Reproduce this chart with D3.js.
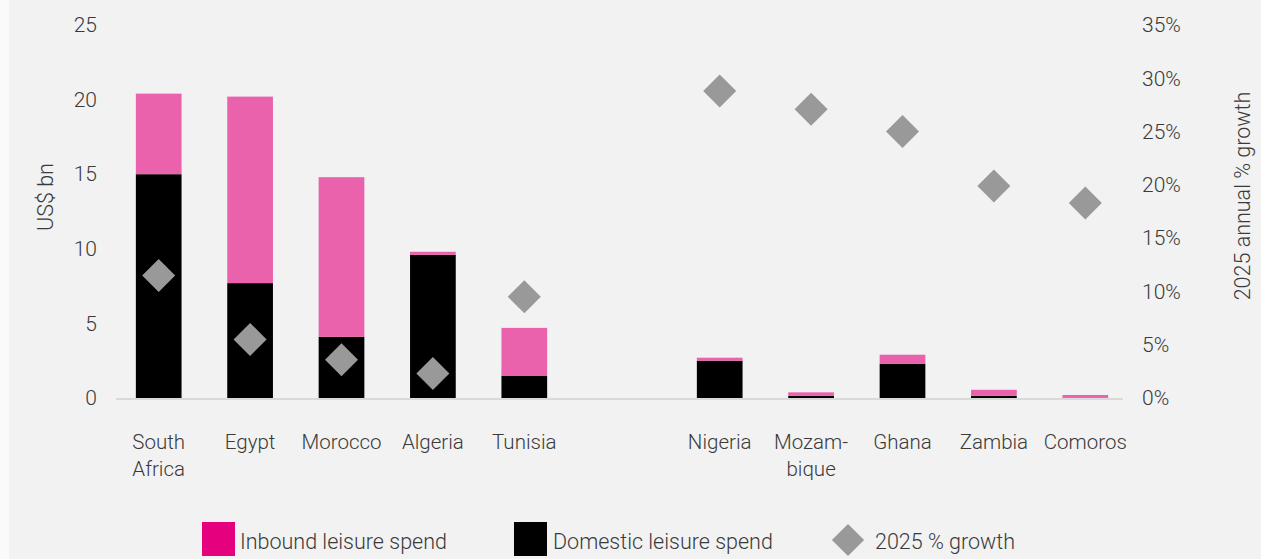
<!DOCTYPE html>
<html>
<head>
<meta charset="utf-8">
<script src="https://cdn.jsdelivr.net/npm/d3@7"></script>
<style>
  html, body { margin: 0; padding: 0; background: #fafafa; }
  svg { display: block; font-family: Roboto, "Noto Sans", sans-serif; font-weight: 300; }
</style>
</head>
<body>
<div id="chart"></div>
<script>
// two country groups, drawn with a gap between them
const leftGroup = ['South Africa', 'Egypt', 'Morocco', 'Algeria', 'Tunisia']
const rightGroup = ['Nigeria', 'Mozambique', 'Ghana', 'Zambia', 'Comoros']
const tickLabels = [['South', 'Africa'], ['Egypt'], ['Morocco'], ['Algeria'], ['Tunisia'],
                    ['Nigeria'], ['Mozam-', 'bique'], ['Ghana'], ['Zambia'], ['Comoros']]

// US$ bn
const domestic = [15.0, 7.7, 4.1, 9.6, 1.5, 2.5, 0.15, 2.3, 0.15, 0.02]
const inbound  = [5.4, 12.5, 10.7, 0.2, 3.2, 0.2, 0.23, 0.6, 0.4, 0.18]
// 2025 annual % growth
const growth   = [11.5, 5.5, 3.6, 2.3, 9.5, 28.8, 27.1, 25.0, 19.9, 18.3]

const leftTicks = [0, 5, 10, 15, 20, 25]
const rightTicks = [0, 5, 10, 15, 20, 25, 30, 35]

const width = 1261, height = 559
const pink = '#e962ab', legendPink = '#e5007d', black = '#000000', grey = '#999999'
const textColor = '#3a3a3a'

const countries = leftGroup.concat(rightGroup)
const data = countries.map((c, i) => ({
  country: c,
  label: tickLabels[i],
  domestic: domestic[i],
  inbound: inbound[i],
  growth: growth[i]
}))

const svg = d3.select('#chart').append('svg')
  .attr('width', width)
  .attr('height', height)

svg.append('rect')
  .attr('x', 9).attr('y', 0)
  .attr('width', width - 9).attr('height', height)
  .attr('fill', '#f2f2f2')

const xLeft = d3.scaleBand().domain(leftGroup).range([113, 570]).paddingInner(0.5).paddingOuter(0.25)
const xRight = d3.scaleBand().domain(rightGroup).range([674, 1131]).paddingInner(0.5).paddingOuter(0.25)
const x = c => leftGroup.includes(c) ? xLeft(c) : xRight(c)
const bw = xLeft.bandwidth()

const y = d3.scaleLinear().domain([0, 25]).range([398, 25])
const y2 = d3.scaleLinear().domain([0, 35]).range([398, 25])

// axes (labels only)
const yAxis = d3.axisLeft(y).tickValues(leftTicks).tickSize(0).tickPadding(19)
const y2Axis = d3.axisRight(y2).tickValues(rightTicks).tickSize(0).tickPadding(19)
  .tickFormat(d => d + '%')

const styleAxis = g => {
  g.select('.domain').remove()
  g.selectAll('text')
    .attr('fill', textColor)
    .attr('font-size', 21)
    .attr('font-family', 'Roboto, sans-serif')
    .attr('font-weight', 300)
}

svg.append('g').attr('transform', 'translate(116,0)').call(yAxis).call(styleAxis)
svg.append('g').attr('transform', 'translate(1123,0)').call(y2Axis).call(styleAxis)

svg.append('text')
  .attr('transform', `translate(53,197) rotate(-90)`)
  .attr('text-anchor', 'middle')
  .attr('font-size', 21.5)
  .attr('fill', textColor)
  .text('US$ bn')

svg.append('text')
  .attr('transform', `translate(1250,196) rotate(-90)`)
  .attr('text-anchor', 'middle')
  .attr('font-size', 21.5)
  .attr('fill', textColor)
  .text('2025 annual % growth')

// baseline
svg.append('line')
  .attr('x1', 116).attr('x2', 1123)
  .attr('y1', y(0) + 1).attr('y2', y(0) + 1)
  .attr('stroke', '#d9d9d9')
  .attr('stroke-width', 2)

// stacked bars
const bars = svg.selectAll('.bar')
  .data(data)
  .join('g')
  .attr('class', 'bar')

bars.append('rect')
  .attr('x', d => x(d.country))
  .attr('width', bw)
  .attr('y', d => y(d.domestic))
  .attr('height', d => y(0) - y(d.domestic))
  .attr('fill', black)

bars.append('rect')
  .attr('x', d => x(d.country))
  .attr('width', bw)
  .attr('y', d => y(d.domestic + d.inbound))
  .attr('height', d => y(d.domestic) - y(d.domestic + d.inbound))
  .attr('fill', pink)

// growth diamonds
const diamond = d3.symbol().type(d3.symbolSquare).size(545)

svg.selectAll('.dot')
  .data(data)
  .join('path')
  .attr('class', 'dot')
  .attr('d', diamond)
  .attr('transform', d => `translate(${x(d.country) + bw / 2},${y2(d.growth)}) rotate(45)`)
  .attr('fill', grey)

// category labels
const labels = svg.selectAll('.cat')
  .data(data)
  .join('text')
  .attr('class', 'cat')
  .attr('text-anchor', 'middle')
  .attr('font-size', 20.5)
  .attr('fill', textColor)

labels.selectAll('tspan')
  .data(d => d.label.map(l => ({ text: l, cx: x(d.country) + bw / 2 })))
  .join('tspan')
  .attr('x', d => d.cx)
  .attr('y', (d, i) => 449 + i * 27)
  .text(d => d.text)

// legend
const legend = svg.append('g').attr('font-size', 21.5).attr('fill', textColor)

legend.append('rect').attr('x', 202).attr('y', 522).attr('width', 33).attr('height', 34).attr('fill', legendPink)
legend.append('text').attr('x', 240).attr('y', 549).text('Inbound leisure spend')

legend.append('rect').attr('x', 514).attr('y', 522).attr('width', 33).attr('height', 34).attr('fill', black)
legend.append('text').attr('x', 553).attr('y', 549).text('Domestic leisure spend')

legend.append('path')
  .attr('d', d3.symbol().type(d3.symbolSquare).size(520)())
  .attr('transform', 'translate(848,540) rotate(45)')
  .attr('fill', grey)
legend.append('text').attr('x', 875).attr('y', 549).text('2025 % growth')
</script>
</body>
</html>
